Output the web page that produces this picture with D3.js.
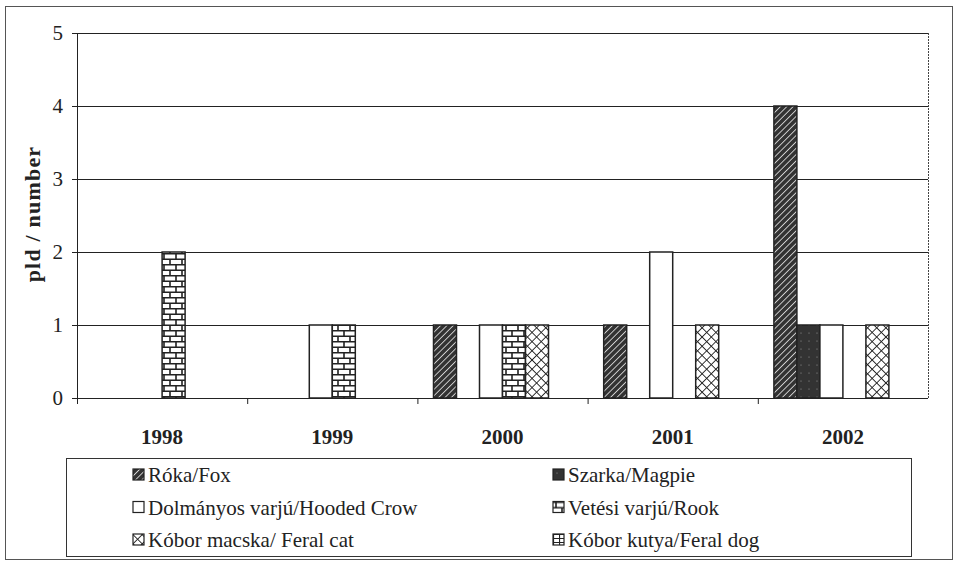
<!DOCTYPE html>
<html lang="en">
<head>
  <meta charset="UTF-8">
  <title>pld / number by year</title>
  <script src="https://d3js.org/d3.v7.min.js"></script>
  <style>
    body { margin: 0; background: #fff; }
    svg text { font-family: "Liberation Serif", "DejaVu Serif", "Times New Roman", serif; fill: #222; }
    .axis path, .axis line { stroke: #222; }
  </style>
</head>
<body>
  <div id="chart"></div>
  <script>
    const years = ["1998", "1999", "2000", "2001", "2002"];
    const seriesNames = ["Róka/Fox", "Szarka/Magpie", "Dolmányos varjú/Hooded Crow",
      "Vetési varjú/Rook", "Kóbor macska/ Feral cat", "Kóbor kutya/Feral dog"];
    const fox = [0, 0, 1, 1, 4];
    const magpie = [0, 0, 0, 0, 1];
    const crow = [0, 1, 1, 2, 1];
    const rook = [2, 1, 1, 0, 0];
    const cat = [0, 0, 1, 1, 1];
    const dog = [0, 0, 0, 0, 0];
    const yTicks = [0, 1, 2, 3, 4, 5];

    const values = [fox, magpie, crow, rook, cat, dog];
    const fills = ["url(#hatch)", "url(#dots)", "#fff", "url(#brick)", "url(#cross)", "url(#grid)"];

    const W = 958, H = 563;
    const margin = {top: 33, right: 30, bottom: 165, left: 77};
    const width = W - margin.left - margin.right,
      height = H - margin.top - margin.bottom;

    const svg = d3.select("#chart").append("svg")
      .attr("width", W).attr("height", H);

    // patterns
    const defs = svg.append("defs");
    const hatch = defs.append("pattern").attr("id", "hatch")
      .attr("patternUnits", "userSpaceOnUse").attr("width", 4.5).attr("height", 4.5)
      .attr("patternTransform", "rotate(45)");
    hatch.append("rect").attr("width", 4.5).attr("height", 4.5).attr("fill", "#333");
    hatch.append("line").attr("x1", 0).attr("y1", 0).attr("x2", 0).attr("y2", 4.5)
      .attr("stroke", "#e8e8e8").attr("stroke-width", 1.6);

    const dots = defs.append("pattern").attr("id", "dots")
      .attr("patternUnits", "userSpaceOnUse").attr("width", 8).attr("height", 8);
    dots.append("rect").attr("width", 8).attr("height", 8).attr("fill", "#333");
    dots.append("circle").attr("cx", 4).attr("cy", 4).attr("r", 0.6).attr("fill", "#999");

    const brick = defs.append("pattern").attr("id", "brick")
      .attr("patternUnits", "userSpaceOnUse").attr("width", 12).attr("height", 11);
    brick.append("rect").attr("width", 12).attr("height", 11).attr("fill", "#fff");
    brick.append("path")
      .attr("d", "M0,0.75H12M0,6.25H12M3,0V5.5M9,5.5V11")
      .attr("stroke", "#222").attr("stroke-width", 1.6).attr("fill", "none");

    const cross = defs.append("pattern").attr("id", "cross")
      .attr("patternUnits", "userSpaceOnUse").attr("width", 6.5).attr("height", 6.5)
      .attr("patternTransform", "rotate(45)");
    cross.append("rect").attr("width", 6.5).attr("height", 6.5).attr("fill", "#fff");
    cross.append("path").attr("d", "M0,0V6.5M0,0H6.5")
      .attr("stroke", "#222").attr("stroke-width", 1.8).attr("fill", "none");

    const grid = defs.append("pattern").attr("id", "grid")
      .attr("patternUnits", "userSpaceOnUse").attr("width", 6).attr("height", 4);
    grid.append("rect").attr("width", 6).attr("height", 4).attr("fill", "#fff");
    grid.append("path").attr("d", "M0,0.5H6M0.5,0V4")
      .attr("stroke", "#222").attr("stroke-width", 1.2).attr("fill", "none");

    // outer frame
    svg.append("rect").attr("x", 5.5).attr("y", 6.5).attr("width", 947).attr("height", 553)
      .attr("fill", "none").attr("stroke", "#555");

    const g = svg.append("g")
      .attr("transform", "translate(" + margin.left + "," + margin.top + ")");

    const x0 = d3.scaleBand().domain(years).range([0, width]);
    const x1 = d3.scaleBand().domain(d3.range(seriesNames.length))
      .range([0, x0.bandwidth()]).paddingOuter(0.7);
    const y = d3.scaleLinear().domain([0, 5]).range([height, 0]);

    // gridlines
    g.append("g")
      .selectAll("line")
      .data(yTicks.slice(1))
      .enter().append("line")
      .attr("x1", 0).attr("x2", width)
      .attr("y1", d => y(d) + 0.5).attr("y2", d => y(d) + 0.5)
      .attr("stroke", "#222");
    g.append("line")
      .attr("x1", width + 0.5).attr("x2", width + 0.5)
      .attr("y1", 0).attr("y2", height)
      .attr("stroke", "#444").attr("stroke-dasharray", "2,1");

    // bars
    const cells = [];
    years.forEach((yr, i) => values.forEach((arr, s) => {
      if (arr[i] > 0) cells.push({year: yr, s: s, v: arr[i]});
    }));
    g.append("g").selectAll("rect")
      .data(cells)
      .enter().append("rect")
      .attr("x", d => x0(d.year) + x1(d.s))
      .attr("y", d => y(d.v))
      .attr("width", x1.bandwidth())
      .attr("height", d => height - y(d.v))
      .attr("fill", d => fills[d.s])
      .attr("stroke", "#222")
      .attr("stroke-width", 1.5);

    // axes
    g.append("g")
      .attr("class", "axis")
      .call(d3.axisLeft(y).tickValues(yTicks).tickSize(5).tickPadding(9).tickFormat(d3.format("d")))
      .call(a => a.select(".domain").attr("d", "M0.5,0V" + height))
      .selectAll("text").style("font-size", "21px").attr("fill", "#222");

    const xAxis = g.append("g")
      .attr("class", "axis")
      .attr("transform", "translate(0," + height + ")");
    xAxis.append("line").attr("x1", -5).attr("x2", width)
      .attr("y1", 0.5).attr("y2", 0.5).attr("stroke", "#222");
    xAxis.selectAll(".tk")
      .data(years)
      .enter().append("line")
      .attr("x1", d => x0(d) + 0.5).attr("x2", d => x0(d) + 0.5)
      .attr("y1", 0).attr("y2", 6).attr("stroke", "#222");
    xAxis.selectAll("text")
      .data(years)
      .enter().append("text")
      .attr("x", d => x0(d) + x0.bandwidth() / 2)
      .attr("y", 46)
      .attr("text-anchor", "middle")
      .style("font-size", "21px")
      .style("font-weight", "bold")
      .text(d => d);

    svg.append("text")
      .attr("transform", "translate(40,214) rotate(-90)")
      .attr("text-anchor", "middle")
      .style("font-size", "22px")
      .style("font-weight", "bold")
      .style("letter-spacing", "1.2px")
      .text("pld / number");

    // legend
    svg.append("rect").attr("x", 66.5).attr("y", 458.5).attr("width", 845).attr("height", 98)
      .attr("fill", "#fff").attr("stroke", "#333");
    const legend = svg.append("g").selectAll("g")
      .data(seriesNames)
      .enter().append("g")
      .attr("transform", (d, i) => "translate(" + (i % 2 ? 553 : 133) + "," + (469 + Math.floor(i / 2) * 32.5) + ")");
    legend.append("rect")
      .attr("width", 11).attr("height", 11)
      .attr("fill", (d, i) => fills[i])
      .attr("stroke", "#222").attr("stroke-width", 1.2);
    legend.append("text")
      .attr("x", 15).attr("y", 6)
      .attr("dy", "0.35em")
      .style("font-size", "21px")
      .text(d => d);
  </script>
</body>
</html>
